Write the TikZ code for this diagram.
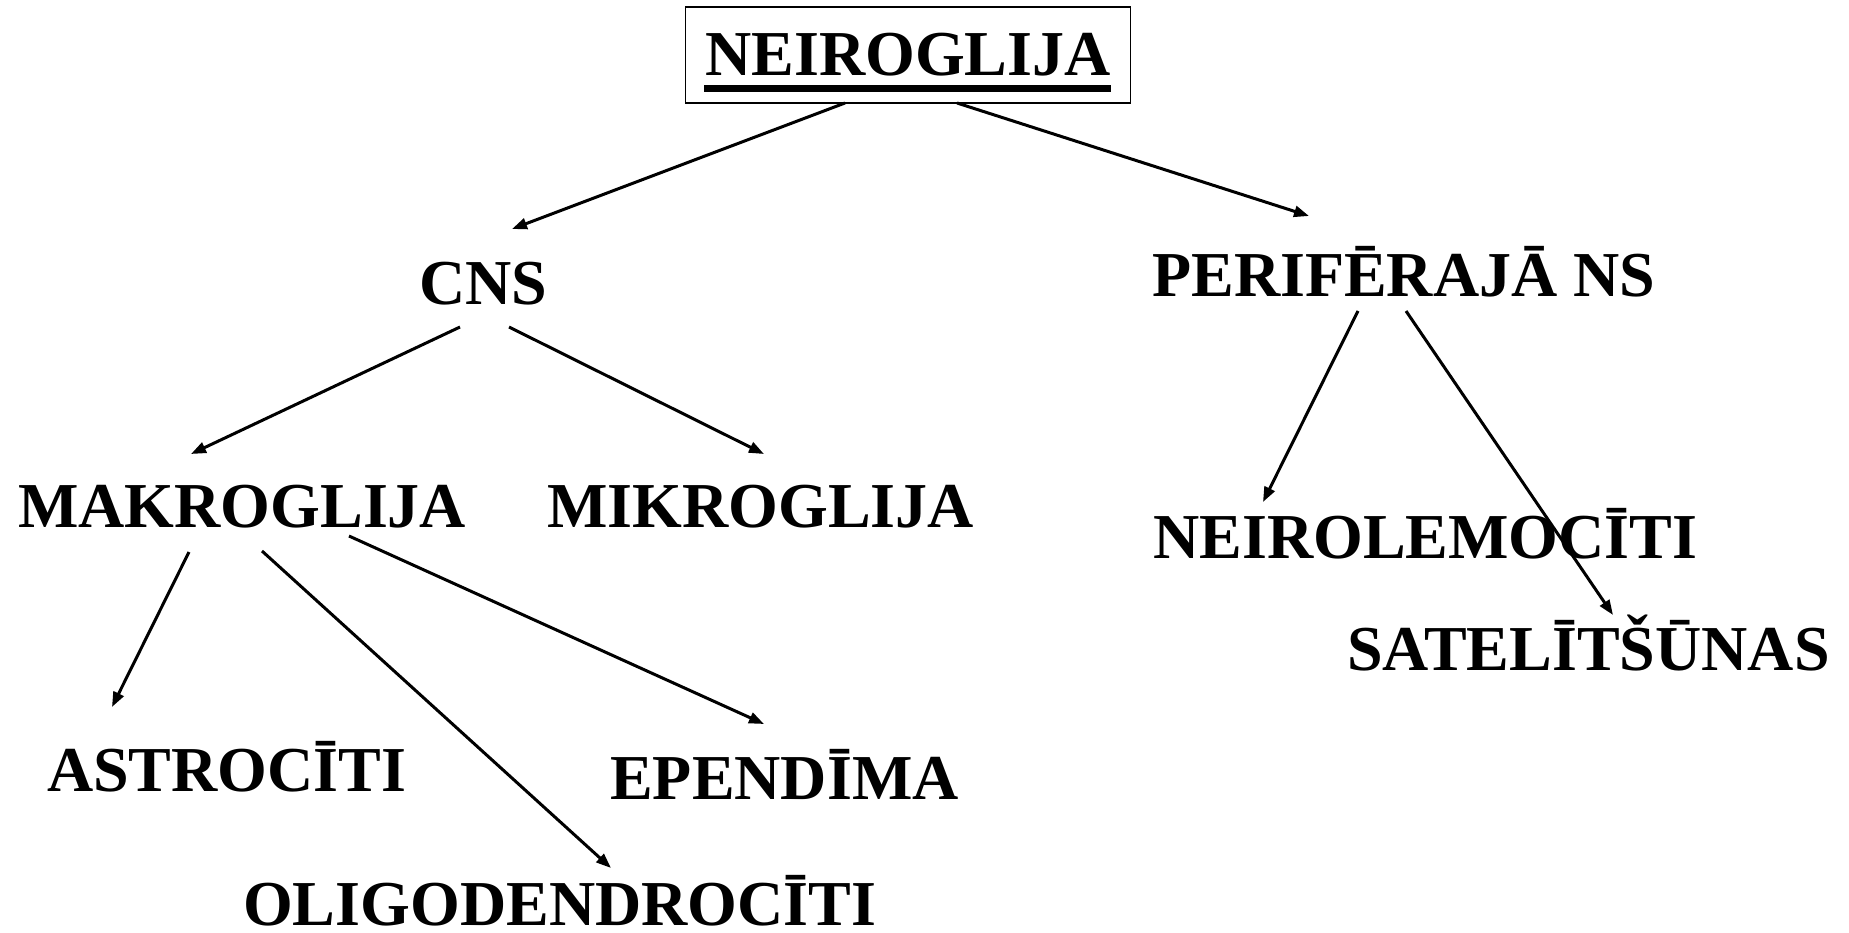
\documentclass[tikz,border=0pt]{standalone}
\usepackage{fontspec}
\setmainfont{Liberation Serif}
\usetikzlibrary{arrows.meta}
\tikzset{
  lbl/.style={anchor=base west, inner sep=0pt, font=\fontsize{64pt}{70pt}\selectfont\bfseries},
  arr/.style={line width=3pt, -{Triangle[length=15pt,width=11pt]}},
  topbox/.style={draw, line width=1.3pt, minimum width=445pt, minimum height=96pt, inner sep=0pt,
     text height=42pt, text depth=0pt, font=\fontsize{64pt}{70pt}\selectfont\bfseries}
}
\begin{document}
\begin{tikzpicture}[x=1pt,y=-1pt]
\useasboundingbox (0,0) rectangle (1849,933);
\node[topbox] (top) at (908,55) {NEIROGLIJA};
\draw[line width=6.5pt] ([xshift=-1pt,yshift=-12.5pt]top.base west -| 705,0) -- ([yshift=-12.5pt]top.base -| 1111,0);
\node[lbl] (cns) at (419,304) {CNS};
\node[lbl] (pns) at (1152,296) {PERIFĒRAJĀ NS};
\node[lbl] (makro) at (18,527) {MAKROGLIJA};
\node[lbl] (mikro) at (547,527) {MIKROGLIJA};
\node[lbl] (neirol) at (1153,558) {NEIROLEMOCĪTI};
\node[lbl] (satel) at (1347,670) {SATELĪTŠŪNAS};
\node[lbl] (astro) at (47,791) {ASTROCĪTI};
\node[lbl] (epend) at (610,799) {EPENDĪMA};
\node[lbl] (oligo) at (243,925) {OLIGODENDROCĪTI};
% connector end points
\coordinate (t1) at (845,103);
\coordinate (t2) at (957,103);
\coordinate (cnsin) at (512,229);
\coordinate (pnsin) at (1309,216);
\coordinate (c1) at (460,327);
\coordinate (c2) at (509,327);
\coordinate (makin) at (191,454);
\coordinate (mikin) at (764,454);
\coordinate (p1) at (1358,311);
\coordinate (p2) at (1406,311);
\coordinate (neiin) at (1263,502);
\coordinate (satin) at (1613,615);
\coordinate (m1) at (189,552);
\coordinate (m2) at (262,551);
\coordinate (m3) at (349,536);
\coordinate (astin) at (112,707);
\coordinate (oligin) at (611,868);
\coordinate (epin) at (764,724);
\draw[arr] (t1) -- (cnsin);
\draw[arr] (t2) -- (pnsin);
\draw[arr] (c1) -- (makin);
\draw[arr] (c2) -- (mikin);
\draw[arr] (p1) -- (neiin);
\draw[arr] (p2) -- (satin);
\draw[arr] (m1) -- (astin);
\draw[arr] (m2) -- (oligin);
\draw[arr] (m3) -- (epin);
\end{tikzpicture}
\end{document}
